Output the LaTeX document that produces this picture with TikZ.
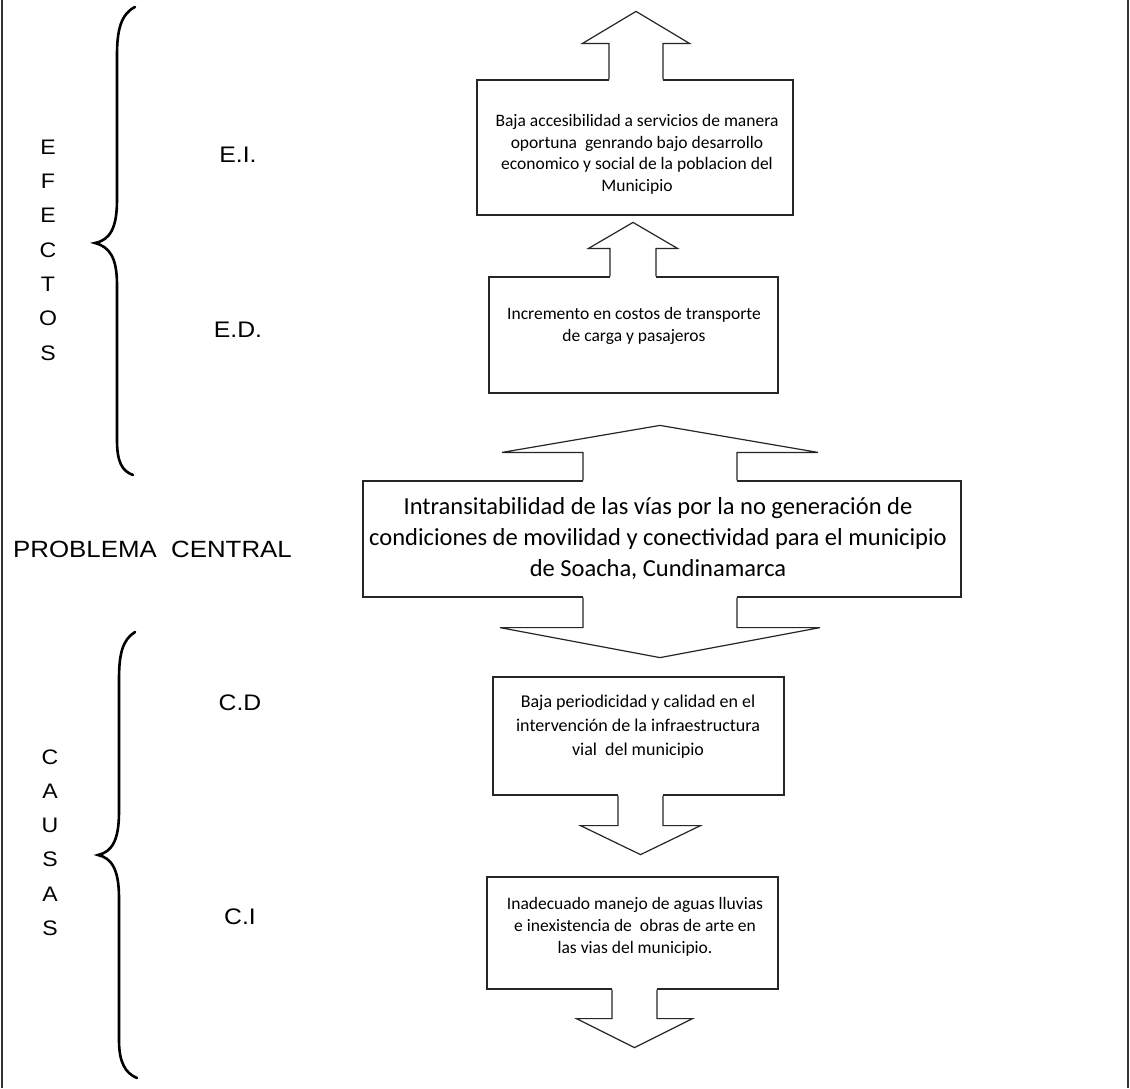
\documentclass[tikz,border=0pt]{standalone}
\usepackage{fontspec}
\setmainfont{Carlito}
\newfontfamily\labfont[FakeStretch=1.1]{Liberation Sans}
\usetikzlibrary{calc}
% #1 anchor, #2 dx, #3 direction (-1 up, 1 down), #4 shaft half width, #5 shaft length, #6 head half width, #7 head length
\newcommand\blockarrow[7]{%
  \fill[white] ($(#1)+({#2-#4},{0-(#3)*1.5})$) rectangle ($(#1)+({#2+#4},{(#3)*#5})$);
  \draw[arrowline] ($(#1)+({#2-#4},0)$) -- ++(0,{(#3)*#5}) -- ++({#4-#6},0) -- ++({#6},{(#3)*#7})
     -- ++({#6},{0-(#3)*#7}) -- ++({#4-#6},0) -- ++(0,{0-(#3)*#5});
}
\begin{document}
\begin{tikzpicture}[x=1pt,y=-1pt,
  boxstyle/.style={draw=black!85, line width=1.2pt, rectangle, inner sep=0pt},
  boxtext/.style={align=center, text=black, inner sep=0pt},
  arrowline/.style={draw=black!85, line width=1.2pt, line join=miter},
  lab/.style={inner sep=0pt, text=black, align=center},
  bracestyle/.style={line width=2.6pt, line cap=round, draw=black},
  edge/.style={line width=1.6pt, draw=black!80}]
\useasboundingbox (0,0) rectangle (1130,1088);
\fill[white] (0,0) rectangle (1130,1088);
\draw[edge] (2,0) -- (2,1088);
\draw[edge] (1128,0) -- (1128,1088);

% boxes
\node[boxstyle, minimum width=316pt, minimum height=135pt] (b1) at (635,147.5) {};
\node[boxstyle, minimum width=289pt, minimum height=116pt] (b2) at (633.5,335) {};
\node[boxstyle, minimum width=598pt, minimum height=116pt] (bc) at (662,539) {};
\node[boxstyle, minimum width=291pt, minimum height=118pt] (b3) at (638.5,736) {};
\node[boxstyle, minimum width=291pt, minimum height=112pt] (b4) at (632.5,933) {};

% block arrows
\blockarrow{b1.north}{1}{-1}{27}{36}{53.5}{32}
\blockarrow{b2.north}{-0.5}{-1}{23}{28}{44.5}{26}
\blockarrow{bc.north}{-2}{-1}{77}{28}{158}{27}
\blockarrow{bc.south}{-2}{1}{77}{30}{160}{30}
\blockarrow{b3.south}{2}{1}{22.5}{30}{60}{29}
\blockarrow{b4.south}{2}{1}{22.5}{29}{58}{29}

% box texts
\node[boxtext, font={\fontsize{17.5}{21.5}\selectfont}] (t1) at (637,154.3)
  {Baja accesibilidad a servicios de manera\\oportuna\ \ genrando bajo desarrollo\\economico y social de la poblacion del\\Municipio};
\node[boxtext, font={\fontsize{17.5}{22}\selectfont}] (t2) at (634,326)
  {Incremento en costos de transporte\\de carga y pasajeros};
\node[boxtext, font={\fontsize{24.5}{31}\selectfont}] (tc) at (658,539)
  {Intransitabilidad de las vías por la no generación de\\condiciones de movilidad y conectividad para el municipio\\de Soacha, Cundinamarca};
\node[boxtext, font={\fontsize{18}{24}\selectfont}] (t3) at (638,727)
  {Baja periodicidad y calidad en el\\intervención de la infraestructura\\vial\ \ del municipio};
\node[boxtext, font={\fontsize{17.5}{22}\selectfont}] (t4) at (635,927)
  {Inadecuado manejo de aguas lluvias\\e inexistencia de\ \ obras de arte en\\las vias del municipio.};

% braces
\draw[bracestyle] (135,7) .. controls (121,14) and (117,30) .. (117,55) -- (117,200)
  .. controls (117,228) and (110,240) .. (95,243)
  .. controls (110,247) and (117,258) .. (117,285) -- (117,440)
  .. controls (117,462) and (122,471) .. (133,475);
\draw[bracestyle] (135,632) .. controls (122,640) and (119,655) .. (119,680) -- (119,812)
  .. controls (119,840) and (112,852) .. (98,855)
  .. controls (112,858) and (119,870) .. (119,898) -- (119,1040)
  .. controls (119,1062) and (125,1073) .. (137,1078);

% labels
\node[lab, font={\labfont\fontsize{21}{34.3}\selectfont}] (efectos) at (48,250) {E\\F\\E\\C\\T\\O\\S};
\node[lab, font={\labfont\fontsize{21}{34.2}\selectfont}] (causas) at (50,842.5) {C\\A\\U\\S\\A\\S};
\node[lab, font={\labfont\fontsize{22.5}{27}\selectfont}] (ei) at (238,155) {E.I.};
\node[lab, font={\labfont\fontsize{22.5}{27}\selectfont}] (ed) at (238,330) {E.D.};
\node[lab, font={\labfont\fontsize{22.5}{27}\selectfont}] (cd) at (240,703) {C.D};
\node[lab, font={\labfont\fontsize{22.5}{27}\selectfont}] (ci) at (240,917) {C.I};
\node[lab, font={\labfont\fontsize{23.5}{28}\selectfont}] (pc) at (152.5,549) {PROBLEMA\ \ CENTRAL};
\end{tikzpicture}
\end{document}
